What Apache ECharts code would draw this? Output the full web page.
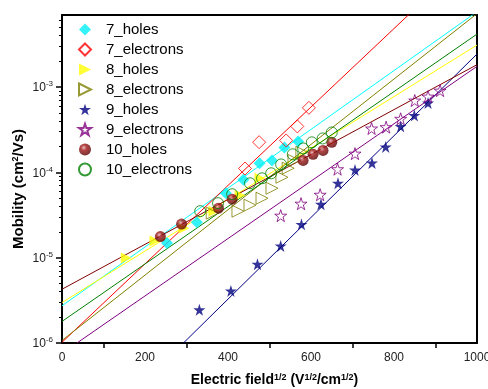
<!DOCTYPE html>
<html>
<head>
<meta charset="utf-8">
<script src="https://cdn.jsdelivr.net/npm/echarts@6/dist/echarts.min.js"></script>
<style>
html,body{margin:0;padding:0;background:#fff}
#main{width:488px;height:389px}
</style>
</head>
<body>
<div id="main"></div>
<script>
// measured points [field^1/2, mobility]
var holes7 = [[253,1.49e-5],[325,2.61e-5],[395,5.70e-5],[437,8.20e-5],[476,1.28e-4],[506,1.38e-4],[536,1.96e-4],[569,2.31e-4]];
var electrons7 = [[441,1.11e-4],[475,2.26e-4],[540,2.37e-4],[567,3.46e-4],[595,5.71e-4]];
var holes8 = [[155,9.9e-6],[224,1.57e-5],[294,2.22e-5],[366,3.51e-5],[429,5.40e-5],[477,8.53e-5]];
var electrons8 = [[362,3.33e-5],[424,3.51e-5],[453,4.13e-5],[482,4.98e-5],[506,6.52e-5],[530,8.77e-5],[545,1.12e-4],[559,1.38e-4],[578,1.72e-4]];
var holes9 = [[331,2.45e-6],[407,4.08e-6],[471,8.38e-6],[527,1.37e-5],[577,2.46e-5],[624,4.24e-5],[665,7.46e-5],[706,1.07e-4],[747,1.29e-4],[780,1.99e-4],[816,3.46e-4],[849,4.65e-4],[882,6.50e-4]];
var electrons9 = [[527,3.11e-5],[576,4.30e-5],[622,5.47e-5],[664,1.09e-4],[706,1.66e-4],[746,3.27e-4],[781,3.39e-4],[816,4.25e-4],[850,6.96e-4],[882,7.74e-4],[911,9.10e-4]];
var holes10 = [[237,1.77e-5],[288,2.48e-5],[377,3.81e-5],[410,4.85e-5],[581,1.38e-4],[605,1.63e-4],[629,1.81e-4],[650,2.25e-4]];
var electrons10 = [[333,3.51e-5],[376,4.36e-5],[410,5.55e-5],[453,7.46e-5],[482,8.53e-5],[504,9.76e-5],[528,1.24e-4],[556,1.63e-4],[581,1.91e-4],[602,2.25e-4],[628,2.50e-4],[650,2.94e-4]];

// fitted lines, end points
var fit7h = [[0,2.73e-6],[1000,7.64e-3]];
var fit7e = [[0,1.02e-6],[1000,4.03e-2]];
var fit8h = [[0,2.98e-6],[1000,3.11e-3]];
var fit8e = [[0,1.07e-6],[1000,7.26e-3]];
var fit9h = [[292.6,1e-6],[1000,2.44e-3]];
var fit9e = [[36,1e-6],[1000,1.75e-3]];
var fit10h = [[0,4.27e-6],[1000,1.83e-3]];
var fit10e = [[0,1.79e-6],[1000,4.18e-3]];

var yMajor = [1e-6,1e-5,1e-4,1e-3];
var yMinor = [];
for (var e = -6; e <= -3; e++) {
    for (var k = 2; k <= 9; k++) {
        var v = k * Math.pow(10, e);
        if (v < 7e-3) yMinor.push(v);
    }
}

var FONT = '"Liberation Sans", Arial, sans-serif';
var starPath = 'path://M50,2 L61,36 L97,36 L68,57 L79,92 L50,71 L21,92 L32,57 L3,36 L39,36 Z';
var rightTri = 'path://M0,0 L10,5 L0,10 Z';

var dom = document.getElementById('main');
var myChart = echarts.init(dom, null, {renderer: 'canvas'});

function fitLine(name, data, color) {
    return {
        name: name,
        type: 'line',
        data: data,
        showSymbol: false,
        symbol: 'none',
        silent: true,
        clip: true,
        lineStyle: {color: color, width: 1},
        z: 2
    };
}

function pts(name, data, opt) {
    return {
        name: name,
        type: 'scatter',
        data: data,
        symbol: opt.symbol,
        symbolSize: opt.size,
        itemStyle: opt.itemStyle,
        z: 3
    };
}

var option = {
    animation: false,
    textStyle: {fontFamily: FONT},
    grid: {left: 62, right: 11, top: 15, bottom: 46, show: false, containLabel: false, outerBoundsMode: 'none'},
    legend: {
        orient: 'vertical',
        left: 73,
        top: 17,
        itemWidth: 12,
        itemHeight: 12,
        itemGap: 5,
        textStyle: {fontFamily: FONT, fontSize: 15, color: '#000', padding: [0, 0, 0, 10]},
        data: [
            {name: '7_holes'},
            {name: '7_electrons'},
            {name: '8_holes', icon: rightTri},
            {name: '8_electrons', icon: rightTri},
            {name: '9_holes'},
            {name: '9_electrons'},
            {name: '10_holes'},
            {name: '10_electrons'}
        ]
    },
    xAxis: [
        {
            type: 'value',
            min: 0,
            max: 1000,
            interval: 200,
            name: 'Electric field{sup|1/2} (V{sup|1/2}/cm{sup|1/2})',
            nameLocation: 'middle',
            nameGap: 30,
            nameTextStyle: {
                fontFamily: FONT, fontSize: 14, fontWeight: 'bold', color: '#000',
                padding: [0, 0, 0, 10],
                rich: {sup: {fontFamily: FONT, fontSize: 9, fontWeight: 'bold', color: '#000', verticalAlign: 'top', padding: [0, 0, 6, 0]}}
            },
            axisLine: {show: true, onZero: false, lineStyle: {color: '#000', width: 2}},
            axisTick: {show: false},
            minorTick: {show: true, splitNumber: 2, length: 5, lineStyle: {color: '#000', width: 1.5}},
            axisLabel: {
                color: '#222', fontSize: 12, fontFamily: FONT, margin: 9,
                formatter: function (val) { return String(val); }
            },
            splitLine: {show: false},
            minorSplitLine: {show: false}
        },
        {
            type: 'value',
            min: 0,
            max: 1000,
            position: 'top',
            axisLine: {show: true, onZero: false, lineStyle: {color: '#000', width: 2}},
            axisTick: {show: false},
            axisLabel: {show: false},
            splitLine: {show: false}
        }
    ],
    yAxis: [
        {
            type: 'log',
            min: 1e-6,
            max: 7e-3,
            name: 'Mobility (cm{sup|2}/Vs)',
            nameLocation: 'middle',
            nameGap: 35,
            nameMoveOverlap: false,
            nameTextStyle: {
                fontFamily: FONT, fontSize: 15, fontWeight: 'bold', color: '#000',
                padding: [0, 20, 0, 0],
                rich: {sup: {fontFamily: FONT, fontSize: 9, fontWeight: 'bold', color: '#000', verticalAlign: 'top', padding: [0, 0, 7, 0]}}
            },
            axisLine: {show: true, onZero: false, lineStyle: {color: '#000', width: 2}},
            axisTick: {show: true, customValues: yMajor, length: 6, lineStyle: {color: '#000', width: 1.5}},
            axisLabel: {
                customValues: yMajor,
                margin: 9,
                formatter: function (val) {
                    var p = Math.round(Math.log(val) / Math.LN10);
                    return '{b|10}{s|' + p + '}';
                },
                rich: {
                    b: {fontFamily: FONT, fontSize: 12, color: '#222', lineHeight: 14, verticalAlign: 'bottom'},
                    s: {fontFamily: FONT, fontSize: 8, color: '#222', verticalAlign: 'top', padding: [0, 0, 5, 0]}
                }
            },
            splitLine: {show: false}
        },
        {
            type: 'log',
            min: 1e-6,
            max: 7e-3,
            position: 'left',
            axisLine: {show: false},
            axisTick: {show: true, customValues: yMinor, length: 3, lineStyle: {color: '#000', width: 1}},
            axisLabel: {show: false},
            splitLine: {show: false}
        },
        {
            type: 'log',
            min: 1e-6,
            max: 7e-3,
            position: 'right',
            axisLine: {show: true, onZero: false, lineStyle: {color: '#000', width: 2}},
            axisTick: {show: false},
            axisLabel: {show: false},
            splitLine: {show: false}
        }
    ],
    series: [
        fitLine('fit 7_holes', fit7h, '#00ffff'),
        fitLine('fit 7_electrons', fit7e, '#ff0000'),
        fitLine('fit 8_holes', fit8h, '#ffff00'),
        fitLine('fit 8_electrons', fit8e, '#808000'),
        fitLine('fit 9_holes', fit9h, '#000080'),
        fitLine('fit 9_electrons', fit9e, '#800080'),
        fitLine('fit 10_holes', fit10h, '#800000'),
        fitLine('fit 10_electrons', fit10e, '#008000'),
        pts('7_holes', holes7, {symbol: 'diamond', size: 12, itemStyle: {color: '#00f0f8'}}),
        pts('7_electrons', electrons7, {symbol: 'diamond', size: 13, itemStyle: {color: 'rgba(255,255,255,0)', borderColor: '#ff0000', borderWidth: 1}}),
        pts('8_holes', holes8, {symbol: rightTri, size: 11, itemStyle: {color: '#ffff00'}}),
        pts('8_electrons', electrons8, {symbol: rightTri, size: 12, itemStyle: {color: 'rgba(255,255,255,0)', borderColor: '#808000', borderWidth: 1}}),
        pts('9_holes', holes9, {symbol: starPath, size: 12, itemStyle: {color: '#000080'}}),
        pts('9_electrons', electrons9, {symbol: starPath, size: 12, itemStyle: {color: 'rgba(255,255,255,0)', borderColor: '#800080', borderWidth: 1}}),
        pts('10_holes', holes10, {symbol: 'circle', size: 11, itemStyle: {
            color: {type: 'radial', x: 0.4, y: 0.35, r: 0.65, colorStops: [
                {offset: 0, color: '#e8b0b0'}, {offset: 0.35, color: '#a01818'}, {offset: 1, color: '#5a0000'}
            ]}
        }}),
        pts('10_electrons', electrons10, {symbol: 'circle', size: 11, itemStyle: {color: 'rgba(255,255,255,0)', borderColor: '#008000', borderWidth: 1}})
    ]
};

if (option && typeof option === 'object') {
    myChart.setOption(option, true);
}
</script>
</body>
</html>
